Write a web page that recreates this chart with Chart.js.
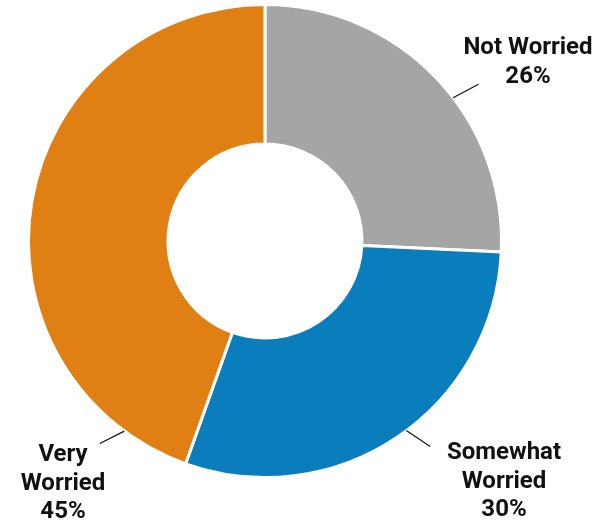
<!DOCTYPE html>
<html>
<head>
<meta charset="utf-8">
<script src="https://cdn.jsdelivr.net/npm/chart.js@4.4.0/dist/chart.umd.min.js"></script>
<style>
  html, body { margin: 0; padding: 0; background: #fff; }
  #wrap { width: 597px; height: 525px; position: relative; }
</style>
</head>
<body>
<div id="wrap"><canvas id="chart"></canvas></div>
<script>
// Datos
const categories = ['Not Worried', 'Somewhat Worried', 'Very Worried'];
const values = [26, 30, 45];
const labelLines = [['Not Worried', '26%'], ['Somewhat', 'Worried', '30%'], ['Very', 'Worried', '45%']];
const colors = ['#a5a5a5', '#0a7dbd', '#e07f14'];

// Posición de las etiquetas (ángulo en grados desde arriba, offsets del texto respecto al centro)
const labelLayout = [
    { a1: 52.7, a2: 53.7, d2: 1.12, tx: 263, ty: -193 },
    { a1: 143.3, a2: 141.2, d2: 1.115, tx: 239, ty: 212 },
    { a1: 216.5, a2: 219.2, d2: 1.105, tx: -202, ty: 214 }
];

// Plugin para dibujar etiquetas con líneas guía
const outsideLabels = {
    id: 'outsideLabels',
    afterDraw(chart) {
        const ctx = chart.ctx;
        const arc = chart.getDatasetMeta(0).data[0];
        const cx = arc.x, cy = arc.y, r = arc.outerRadius;
        ctx.save();
        labelLayout.forEach((l, i) => {
            const t1 = l.a1 * Math.PI / 180, t2 = l.a2 * Math.PI / 180;
            ctx.beginPath();
            ctx.moveTo(cx + r * Math.sin(t1), cy - r * Math.cos(t1));
            ctx.lineTo(cx + r * l.d2 * Math.sin(t2), cy - r * l.d2 * Math.cos(t2));
            ctx.strokeStyle = '#111';
            ctx.lineWidth = 1.2;
            ctx.stroke();
            ctx.fillStyle = '#111';
            ctx.font = 'bold 24px Roboto';
            ctx.textAlign = 'center';
            ctx.textBaseline = 'middle';
            labelLines[i].forEach((txt, j) => {
                ctx.fillText(txt, cx + l.tx, cy + l.ty + j * 28.5);
            });
        });
        ctx.restore();
    }
};

new Chart(document.getElementById('chart'), {
    type: 'doughnut',
    data: {
        labels: categories,
        datasets: [{
            data: values,
            backgroundColor: colors,
            borderColor: '#ffffff',
            borderWidth: 3
        }]
    },
    options: {
        responsive: true,
        maintainAspectRatio: false,
        animation: false,
        cutout: '41%',
        layout: { padding: { left: 27, right: 94, top: 3, bottom: 46 } },
        plugins: {
            legend: { display: false },
            tooltip: { enabled: false }
        }
    },
    plugins: [outsideLabels]
});
</script>
</body>
</html>
